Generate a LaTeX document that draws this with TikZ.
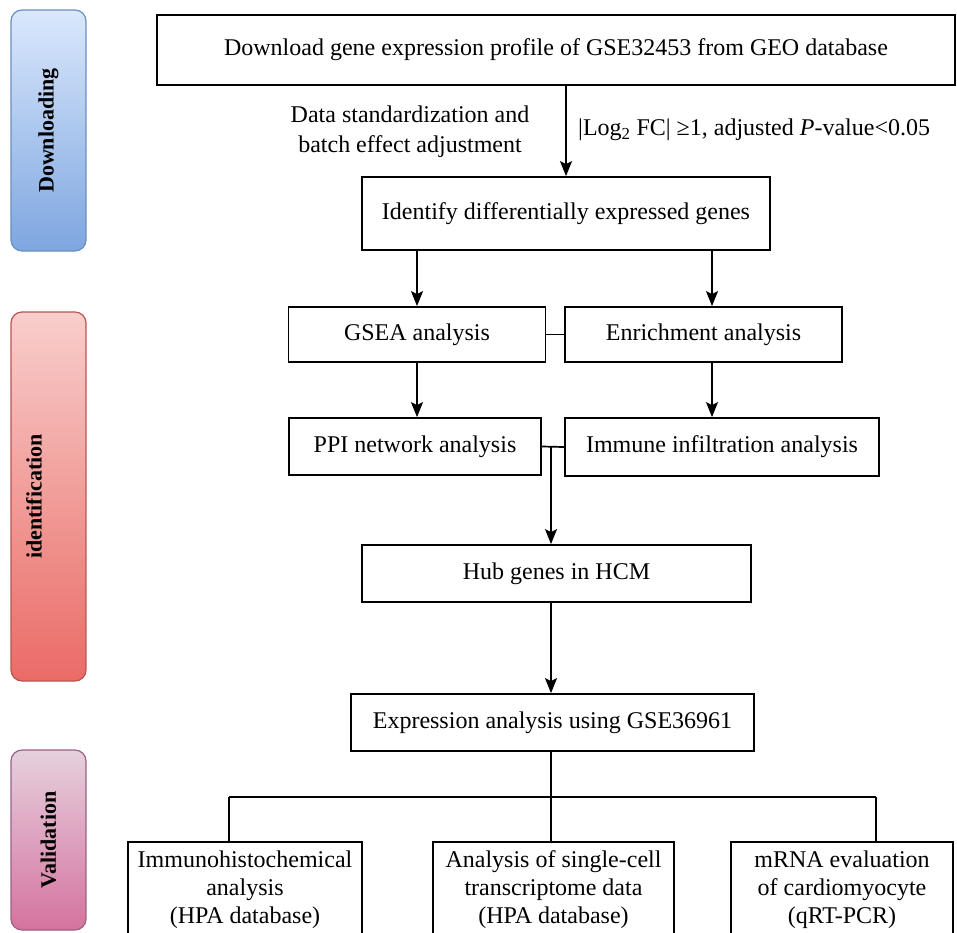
\documentclass[tikz,border=0pt]{standalone}
\usepackage{fontspec}
\setmainfont{Liberation Serif}
\usetikzlibrary{arrows.meta}
\begin{document}
\begin{tikzpicture}[x=1pt,y=-1pt,
  box/.style={draw, line width=1.8pt, inner sep=0pt, align=center,
    font=\fontsize{24}{28}\selectfont},
  arr/.style={line width=1.7pt, -{Stealth[length=15pt,width=12pt,inset=3pt]}},
  con/.style={line width=1.7pt},
  bar/.style={draw, line width=1.2pt, rounded corners=11pt, minimum width=75pt, inner sep=0pt},
  barlbl/.style={rotate=90, font=\fontsize{22}{24}\selectfont\bfseries},
  lbl/.style={font=\fontsize{24}{30}\selectfont, align=center, inner sep=0pt}
]
\definecolor{blueT}{HTML}{DAE8FC}\definecolor{blueB}{HTML}{7EA6E0}\definecolor{blueD}{HTML}{6C8EBF}
\definecolor{redT}{HTML}{F8CECC}\definecolor{redB}{HTML}{EA6B66}\definecolor{redD}{HTML}{B85450}
\definecolor{pinkT}{HTML}{E6D0DE}\definecolor{pinkB}{HTML}{D5739D}\definecolor{pinkD}{HTML}{996185}
\useasboundingbox (0,0) rectangle (957,932);

% side bars
\node[bar, draw=blueD, top color=blueT, bottom color=blueB, minimum height=241pt] (b1) at (48.5,130.5) {};
\node[barlbl] (l1) at (b1) {Downloading};
\node[bar, draw=redD, top color=redT, bottom color=redB, minimum height=369pt] (b2) at (48.5,496.5) {};
\node[barlbl, yshift=14.5pt] (l2) at (b2) {identification};
\node[bar, draw=pinkD, top color=pinkT, bottom color=pinkB, minimum height=180pt] (b3) at (48.5,840) {};
\node[barlbl] (l3) at (b3) {Validation};

% main boxes
\node[box, minimum width=798pt, minimum height=70pt] (top) at (556,50) {Download gene expression profile of GSE32453 from GEO database};
\node[box, minimum width=408pt, minimum height=73pt] (deg) at (566,213.5) {Identify differentially expressed genes};
\node[box, minimum width=257pt, minimum height=55pt] (gsea) at (417,334.5) {GSEA analysis};
\node[box, minimum width=277pt, minimum height=55pt] (enr) at (703.5,334.5) {Enrichment analysis};
\node[box, minimum width=252pt, minimum height=57pt] (ppi) at (415,446.5) {PPI network analysis};
\node[box, minimum width=314pt, minimum height=58pt] (imm) at (722,447) {Immune infiltration analysis};
\node[box, minimum width=389pt, minimum height=57pt] (hub) at (556.5,573.5) {Hub genes in HCM};
\node[box, minimum width=403pt, minimum height=57pt] (expr) at (552.5,722.5) {Expression analysis using GSE36961};
\node[box, minimum width=234pt, minimum height=96pt] (v1) at (245,890) {Immunohistochemical\\analysis\\(HPA database)};
\node[box, minimum width=241pt, minimum height=96pt] (v2) at (553.5,890) {Analysis of single-cell\\transcriptome data\\(HPA database)};
\node[box, minimum width=222pt, minimum height=96pt] (v3) at (842,890) {mRNA evaluation\\of cardiomyocyte\\(qRT-PCR)};

% labels
\node[lbl] (la) at (410,132) {Data standardization and\\batch effect adjustment};
\node[lbl, anchor=west] (lb) at (578,130) {|Log\textsubscript{2} FC| ≥1, adjusted \textit{P}-value<0.05};

% coordinates for connector columns
\coordinate (cR) at (712,0);
\coordinate (cM) at (551,0);
\coordinate (cL) at (229,0);
\coordinate (cRR) at (876,0);
\coordinate (hy) at (0,797);

% connectors
\draw[arr] (deg.north |- top.south) -- (deg.north);
\draw[arr] (deg.south -| gsea.north) -- (gsea.north);
\draw[arr] (deg.south -| cR) -- (enr.north -| cR);
\draw[con] (gsea.east) -- (enr.west);
\draw[arr] (gsea.south) -- (ppi.north -| gsea.south);
\draw[arr] (enr.south -| cR) -- (imm.north -| cR);
\draw[con] (ppi.east) -- (imm.west);
\draw[arr] (ppi.east -| cM) -- (hub.north -| cM);
\draw[arr] (hub.south -| cM) -- (expr.north -| cM);
\draw[con] (expr.south -| cM) -- (hy -| cM);
\draw[con] (hy -| cL) -- (hy -| cRR);
\draw[con] (hy -| cL) -- (v1.north -| cL);
\draw[con] (hy -| cM) -- (v2.north -| cM);
\draw[con] (hy -| cRR) -- (v3.north -| cRR);
\end{tikzpicture}
\end{document}
